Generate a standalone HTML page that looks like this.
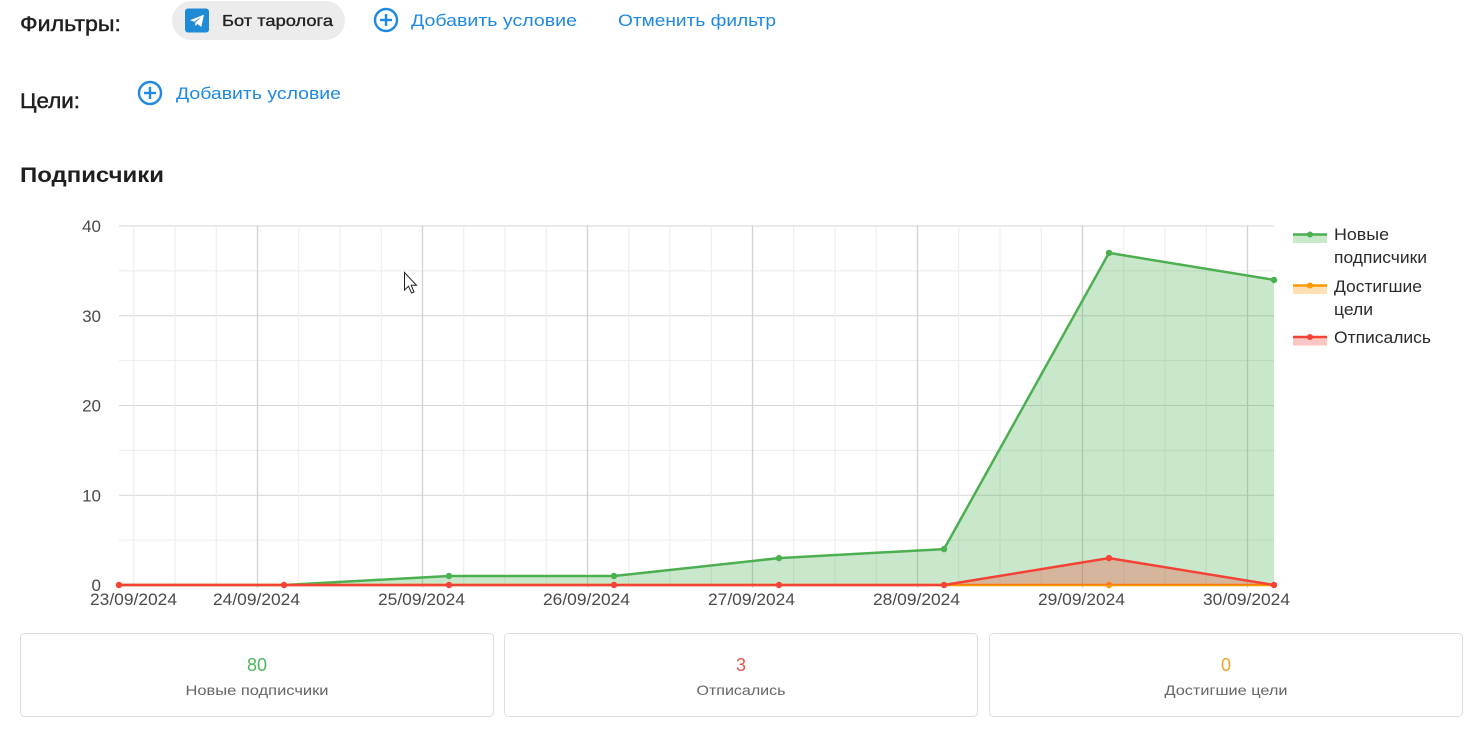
<!DOCTYPE html>
<html>
<head>
<meta charset="utf-8">
<style>
  html, body { margin: 0; padding: 0; background: #ffffff; }
  body { width: 1470px; height: 736px; overflow: hidden; }
  svg { display: block; font-family: "Liberation Sans", "Noto Sans CJK SC", sans-serif; }
</style>
</head>
<body>
<svg width="1470" height="736" viewBox="0 0 1470 736" xmlns="http://www.w3.org/2000/svg">
  <rect x="0" y="0" width="1470" height="736" fill="#ffffff"/>

  <!-- Header row 1 -->
  <text x="20" y="31" font-size="21" fill="#1f1f1f" stroke="#1f1f1f" stroke-width="0.45" textLength="101" lengthAdjust="spacingAndGlyphs">Фильтры:</text>
  <rect x="172" y="1" width="173" height="39" rx="19.5" fill="#ececec"/>
  <rect x="185" y="8.5" width="24" height="24" rx="3" fill="#1f8bd6"/>
  <path d="M190 20.2 L204 14.6 L201.3 27 L197.4 24 L195.4 26 L195.2 22.6 L201.5 16.8 L194.3 21.8 Z" fill="#ffffff"/>
  <text x="222" y="26" font-size="16" fill="#222" stroke="#222" stroke-width="0.35" textLength="111" lengthAdjust="spacingAndGlyphs">Бот таролога</text>

  <circle cx="386" cy="20" r="11" fill="none" stroke="#1e88e5" stroke-width="2.4"/>
  <line x1="380" y1="20" x2="392" y2="20" stroke="#1e88e5" stroke-width="2.4"/>
  <line x1="386" y1="14" x2="386" y2="26" stroke="#1e88e5" stroke-width="2.4"/>
  <text x="411" y="26" font-size="17" fill="#1e88e5" textLength="166" lengthAdjust="spacingAndGlyphs">Добавить условие</text>
  <text x="618" y="26" font-size="17" fill="#1e88e5" textLength="158" lengthAdjust="spacingAndGlyphs">Отменить фильтр</text>

  <!-- Header row 2 -->
  <text x="20" y="108" font-size="21" fill="#1f1f1f" stroke="#1f1f1f" stroke-width="0.45" textLength="60" lengthAdjust="spacingAndGlyphs">Цели:</text>
  <circle cx="150" cy="93" r="11" fill="none" stroke="#1e88e5" stroke-width="2.4"/>
  <line x1="144" y1="93" x2="156" y2="93" stroke="#1e88e5" stroke-width="2.4"/>
  <line x1="150" y1="87" x2="150" y2="99" stroke="#1e88e5" stroke-width="2.4"/>
  <text x="176" y="99" font-size="17" fill="#1e88e5" textLength="165" lengthAdjust="spacingAndGlyphs">Добавить условие</text>

  <!-- Section title -->
  <text x="20" y="182" font-size="21" font-weight="bold" fill="#1f1f1f" textLength="144" lengthAdjust="spacingAndGlyphs">Подписчики</text>

  <!-- Grid: horizontal -->
  <g stroke-width="1">
    <line x1="119" y1="540.1" x2="1274" y2="540.1" stroke="#ebebeb"/>
    <line x1="119" y1="450.4" x2="1274" y2="450.4" stroke="#ebebeb"/>
    <line x1="119" y1="360.6" x2="1274" y2="360.6" stroke="#ebebeb"/>
    <line x1="119" y1="270.9" x2="1274" y2="270.9" stroke="#ebebeb"/>
    <line x1="119" y1="226" x2="1274" y2="226" stroke="#d6d6d6"/>
    <line x1="119" y1="315.75" x2="1274" y2="315.75" stroke="#d6d6d6"/>
    <line x1="119" y1="405.5" x2="1274" y2="405.5" stroke="#d6d6d6"/>
    <line x1="119" y1="495.25" x2="1274" y2="495.25" stroke="#d6d6d6"/>
  </g>
  <!-- Grid: vertical minor -->
  <g stroke="#ebebeb" stroke-width="1">
    <line x1="133.75" y1="226" x2="133.75" y2="585"/>
    <line x1="175" y1="226" x2="175" y2="585"/>
    <line x1="216.25" y1="226" x2="216.25" y2="585"/>
    <line x1="298.75" y1="226" x2="298.75" y2="585"/>
    <line x1="340" y1="226" x2="340" y2="585"/>
    <line x1="381.25" y1="226" x2="381.25" y2="585"/>
    <line x1="463.75" y1="226" x2="463.75" y2="585"/>
    <line x1="505" y1="226" x2="505" y2="585"/>
    <line x1="546.25" y1="226" x2="546.25" y2="585"/>
    <line x1="628.75" y1="226" x2="628.75" y2="585"/>
    <line x1="670" y1="226" x2="670" y2="585"/>
    <line x1="711.25" y1="226" x2="711.25" y2="585"/>
    <line x1="793.75" y1="226" x2="793.75" y2="585"/>
    <line x1="835" y1="226" x2="835" y2="585"/>
    <line x1="876.25" y1="226" x2="876.25" y2="585"/>
    <line x1="958.75" y1="226" x2="958.75" y2="585"/>
    <line x1="1000" y1="226" x2="1000" y2="585"/>
    <line x1="1041.25" y1="226" x2="1041.25" y2="585"/>
    <line x1="1123.75" y1="226" x2="1123.75" y2="585"/>
    <line x1="1165" y1="226" x2="1165" y2="585"/>
    <line x1="1206.25" y1="226" x2="1206.25" y2="585"/>
  </g>
  <!-- Grid: vertical major -->
  <g stroke="#d2d2d2" stroke-width="1.3">
    <line x1="257.5" y1="226" x2="257.5" y2="588"/>
    <line x1="422.5" y1="226" x2="422.5" y2="588"/>
    <line x1="587.5" y1="226" x2="587.5" y2="588"/>
    <line x1="752.5" y1="226" x2="752.5" y2="588"/>
    <line x1="917.5" y1="226" x2="917.5" y2="588"/>
    <line x1="1082.5" y1="226" x2="1082.5" y2="588"/>
    <line x1="1247.5" y1="226" x2="1247.5" y2="588"/>
  </g>

  <!-- Y labels -->
  <g font-size="17" fill="#4a4a4a" text-anchor="end">
    <text x="101" y="232">40</text>
    <text x="101" y="321.75">30</text>
    <text x="101" y="411.5">20</text>
    <text x="101" y="501.25">10</text>
    <text x="101" y="591">0</text>
  </g>

  <!-- Green series -->
  <path d="M119 585 L284 585 L449 576 L614 576 L779 558.1 L944 549.1 L1109 252.9 L1274 279.9 L1274 585 Z" fill="rgba(76,175,80,0.3)"/>
  <polyline points="119,585 284,585 449,576 614,576 779,558.1 944,549.1 1109,252.9 1274,279.9" fill="none" stroke="#4caf50" stroke-width="2.5" stroke-linejoin="round"/>
  <g fill="#4caf50">
    <circle cx="449" cy="576" r="3.2"/>
    <circle cx="614" cy="576" r="3.2"/>
    <circle cx="779" cy="558.1" r="3.2"/>
    <circle cx="944" cy="549.1" r="3.2"/>
    <circle cx="1109" cy="252.9" r="3.2"/>
    <circle cx="1274" cy="279.9" r="3.2"/>
  </g>

  <!-- Orange series -->
  <polyline points="119,585 1274,585" fill="none" stroke="#ff9800" stroke-width="2.5"/>
  <circle cx="1109" cy="585" r="3.2" fill="#ff9800"/>

  <!-- Red series -->
  <path d="M944 585 L1109 558.1 L1274 585 Z" fill="rgba(244,67,54,0.3)"/>
  <polyline points="119,585 284,585 449,585 614,585 779,585 944,585" fill="none" stroke="#f44336" stroke-width="2.5"/>
  <polyline points="944,585 1109,558.1 1274,585" fill="none" stroke="#f44336" stroke-width="2.5" stroke-linejoin="round"/>
  <g fill="#f44336">
    <circle cx="119" cy="585" r="3.2"/>
    <circle cx="284" cy="585" r="3.2"/>
    <circle cx="449" cy="585" r="3.2"/>
    <circle cx="614" cy="585" r="3.2"/>
    <circle cx="779" cy="585" r="3.2"/>
    <circle cx="944" cy="585" r="3.2"/>
    <circle cx="1109" cy="558.1" r="3.2"/>
    <circle cx="1274" cy="585" r="3.2"/>
  </g>

  <!-- X labels -->
  <g font-size="17" fill="#4a4a4a" text-anchor="middle">
    <text x="133.5" y="605" textLength="87" lengthAdjust="spacingAndGlyphs">23/09/2024</text>
    <text x="256.5" y="605" textLength="87" lengthAdjust="spacingAndGlyphs">24/09/2024</text>
    <text x="421.5" y="605" textLength="87" lengthAdjust="spacingAndGlyphs">25/09/2024</text>
    <text x="586.5" y="605" textLength="87" lengthAdjust="spacingAndGlyphs">26/09/2024</text>
    <text x="751.5" y="605" textLength="87" lengthAdjust="spacingAndGlyphs">27/09/2024</text>
    <text x="916.5" y="605" textLength="87" lengthAdjust="spacingAndGlyphs">28/09/2024</text>
    <text x="1081.5" y="605" textLength="87" lengthAdjust="spacingAndGlyphs">29/09/2024</text>
    <text x="1246.5" y="605" textLength="87" lengthAdjust="spacingAndGlyphs">30/09/2024</text>
  </g>

  <!-- Legend -->
  <rect x="1293" y="234.5" width="34" height="8.5" fill="rgba(76,175,80,0.3)"/>
  <line x1="1293" y1="234.5" x2="1327" y2="234.5" stroke="#4caf50" stroke-width="2.5"/>
  <circle cx="1310" cy="234.5" r="3" fill="#4caf50"/>
  <rect x="1293" y="285.5" width="34" height="8.5" fill="rgba(255,152,0,0.3)"/>
  <line x1="1293" y1="285.5" x2="1327" y2="285.5" stroke="#ff9800" stroke-width="2.5"/>
  <circle cx="1310" cy="285.5" r="3" fill="#ff9800"/>
  <rect x="1293" y="337" width="34" height="8.5" fill="rgba(244,67,54,0.3)"/>
  <line x1="1293" y1="337" x2="1327" y2="337" stroke="#f44336" stroke-width="2.5"/>
  <circle cx="1310" cy="337" r="3" fill="#f44336"/>
  <g font-size="17" fill="#2a2a2a">
    <text x="1334" y="240" textLength="55" lengthAdjust="spacingAndGlyphs">Новые</text>
    <text x="1334" y="263" textLength="93" lengthAdjust="spacingAndGlyphs">подписчики</text>
    <text x="1334" y="292" textLength="88" lengthAdjust="spacingAndGlyphs">Достигшие</text>
    <text x="1334" y="315" textLength="39" lengthAdjust="spacingAndGlyphs">цели</text>
    <text x="1334" y="343" textLength="97" lengthAdjust="spacingAndGlyphs">Отписались</text>
  </g>

  <!-- Cursor -->
  <path d="M404.5 272.5 L404.5 290 L408.5 286.2 L411.5 293 L414 292 L411.2 285.3 L416.5 285.3 Z" fill="#ffffff" stroke="#222" stroke-width="1"/>

  <!-- Cards -->
  <rect x="20.5" y="633.5" width="473" height="83" rx="4" fill="#fff" stroke="#dddddd"/>
  <rect x="504.5" y="633.5" width="473" height="83" rx="4" fill="#fff" stroke="#dddddd"/>
  <rect x="989.5" y="633.5" width="473" height="83" rx="4" fill="#fff" stroke="#dddddd"/>

  <g text-anchor="middle">
    <text x="257" y="671" font-size="18" fill="#4cb85a">80</text>
    <text x="257" y="695" font-size="14" fill="#666" textLength="143" lengthAdjust="spacingAndGlyphs">Новые подписчики</text>
    <text x="741" y="671" font-size="18" fill="#e9524a">3</text>
    <text x="741" y="695" font-size="14" fill="#666" textLength="89" lengthAdjust="spacingAndGlyphs">Отписались</text>
    <text x="1226" y="671" font-size="18" fill="#f0a62a">0</text>
    <text x="1226" y="695" font-size="14" fill="#666" textLength="123" lengthAdjust="spacingAndGlyphs">Достигшие цели</text>
  </g>
</svg>
</body>
</html>
